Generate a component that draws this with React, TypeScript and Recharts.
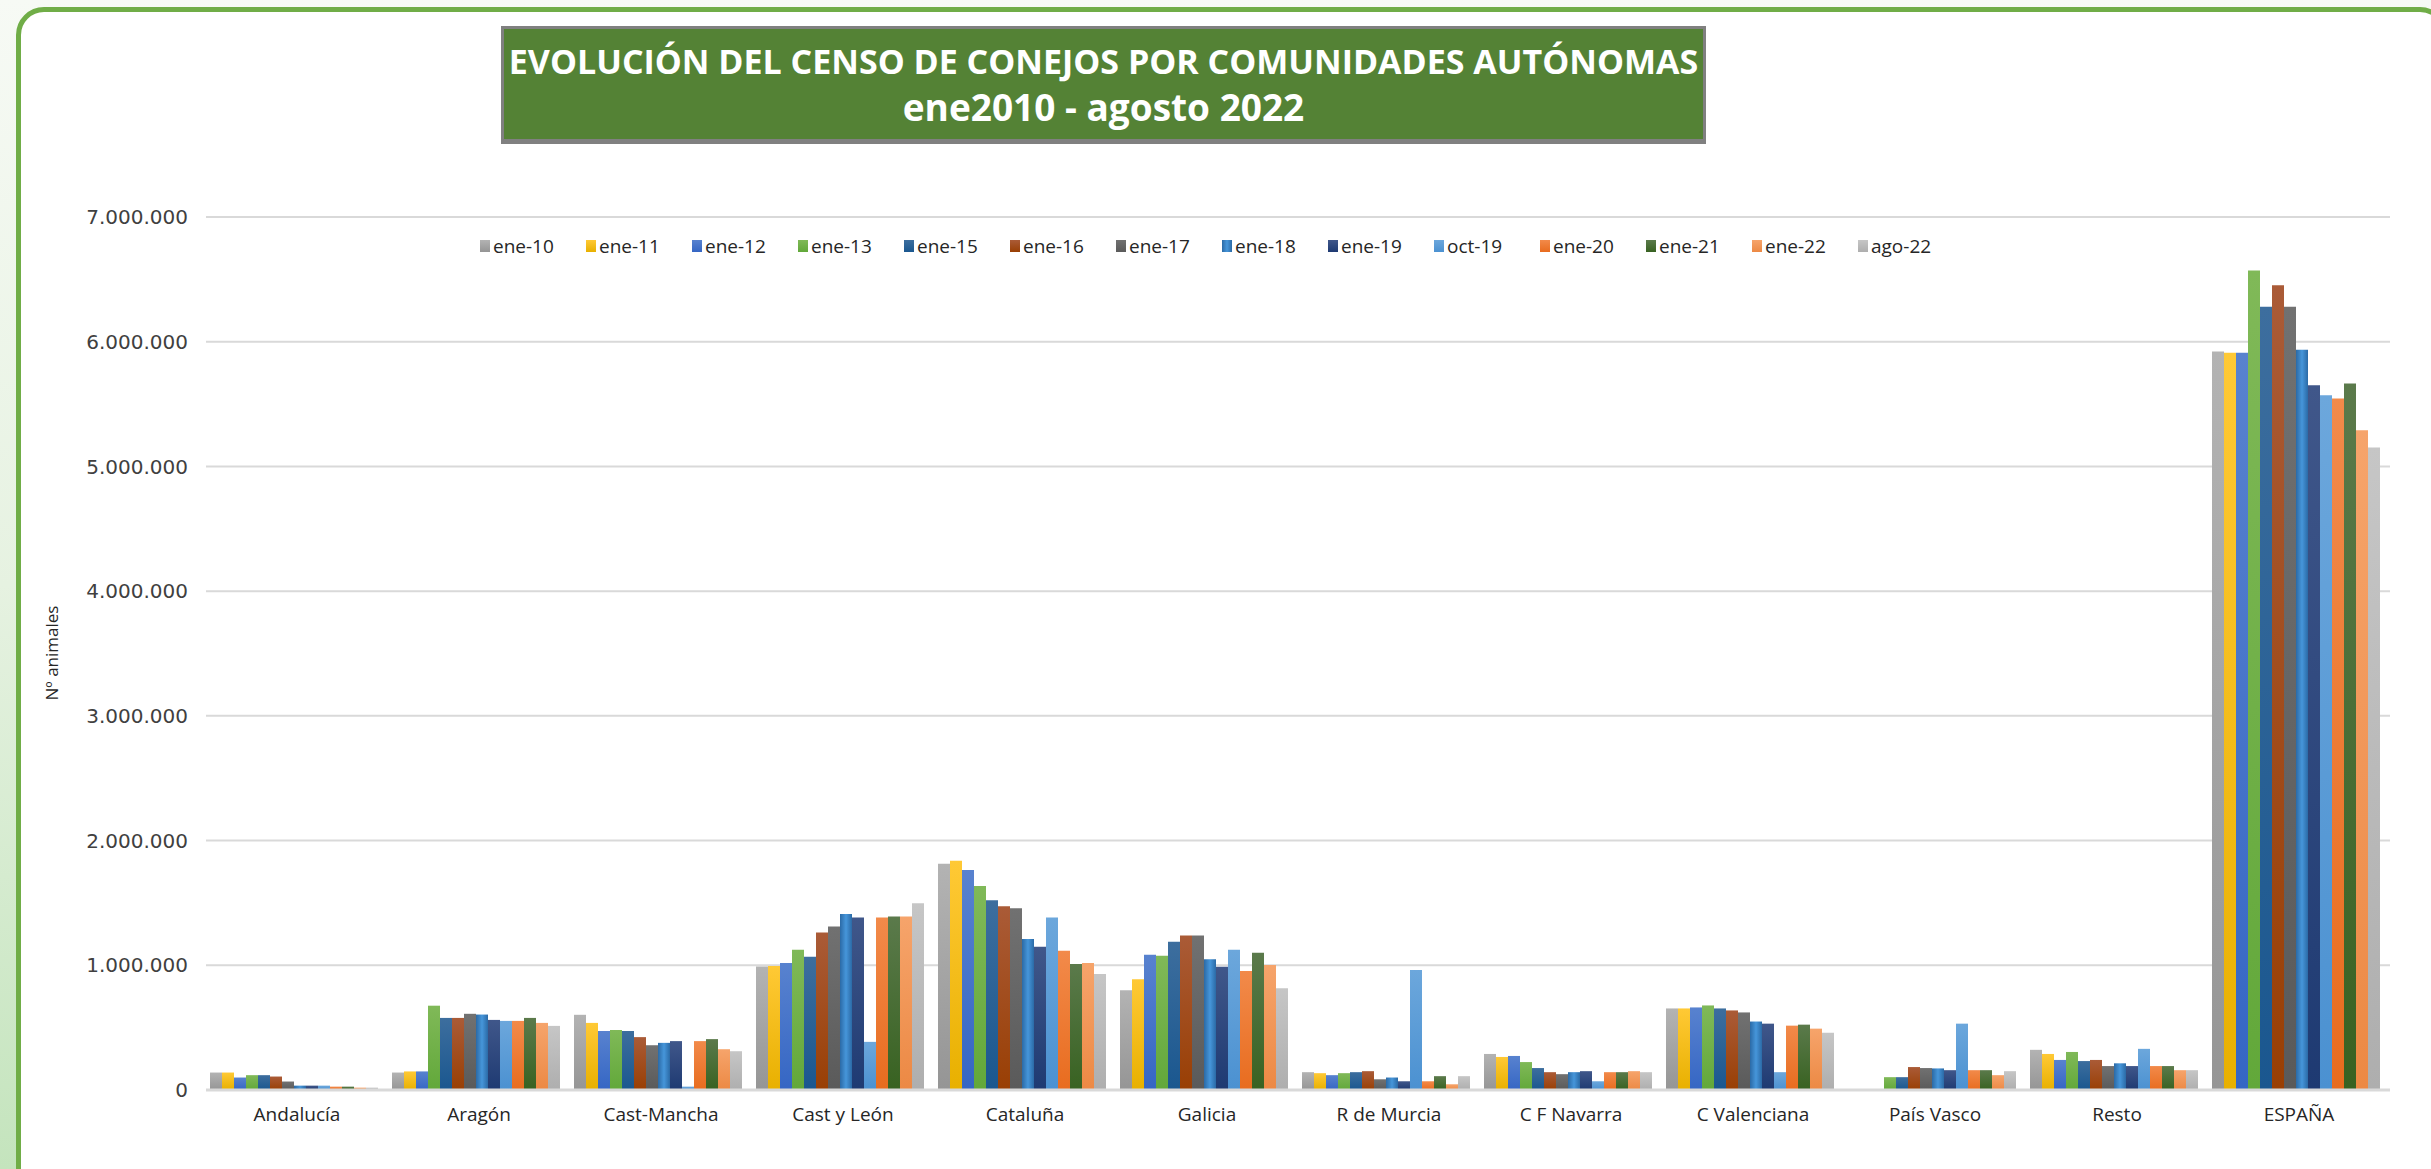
import { BarChart, Bar, XAxis, YAxis, CartesianGrid } from "recharts";

// Censo de conejos por comunidad (nº animales)
const categories = [
  "Andalucía", "Aragón", "Cast-Mancha", "Cast y León", "Cataluña", "Galicia",
  "R de Murcia", "C F Navarra", "C Valenciana", "País Vasco", "Resto", "ESPAÑA",
];

const ene10 = [140000, 140000, 603000, 990000, 1814000, 800000, 143000, 289000, 654000, 8000, 322000, 5922000];
const ene11 = [140000, 149000, 538000, 995000, 1838000, 889000, 135000, 265000, 654000, 8000, 289000, 5912000];
const ene12 = [100000, 149000, 473000, 1019000, 1765000, 1084000, 119000, 273000, 662000, 8000, 241000, 5912000];
const ene13 = [119000, 676000, 481000, 1124000, 1635000, 1076000, 135000, 224000, 678000, 103000, 305000, 6571000];
const ene15 = [119000, 578000, 473000, 1068000, 1522000, 1189000, 143000, 176000, 654000, 103000, 232000, 6281000];
const ene16 = [108000, 578000, 424000, 1262000, 1473000, 1238000, 151000, 143000, 638000, 184000, 241000, 6452000];
const ene17 = [68000, 611000, 359000, 1311000, 1457000, 1238000, 86000, 127000, 622000, 176000, 192000, 6281000];
const ene18 = [35000, 605000, 378000, 1411000, 1211000, 1049000, 100000, 143000, 549000, 173000, 214000, 5935000];
const ene19 = [35000, 562000, 392000, 1384000, 1149000, 989000, 70000, 151000, 532000, 159000, 192000, 5650000];
const oct19 = [35000, 554000, 27000, 386000, 1384000, 1124000, 962000, 70000, 143000, 532000, 330000, 5571000];
const ene20 = [27000, 554000, 392000, 1384000, 1116000, 954000, 70000, 143000, 516000, 159000, 192000, 5544000];
const ene21 = [27000, 578000, 408000, 1392000, 1011000, 1100000, 111000, 143000, 524000, 159000, 192000, 5664000];
const ene22 = [19000, 538000, 327000, 1392000, 1019000, 1003000, 46000, 151000, 492000, 119000, 159000, 5290000];
const ago22 = [19000, 514000, 311000, 1497000, 930000, 816000, 111000, 143000, 459000, 151000, 159000, 5152000];

const yTicks = [0, 1000000, 2000000, 3000000, 4000000, 5000000, 6000000, 7000000];

const SERIES = [
  { key: "ene-10", values: ene10, top: "#b3b3b3", bottom: "#959595" },
  { key: "ene-11", values: ene11, top: "#ffc935", bottom: "#e8b000" },
  { key: "ene-12", values: ene12, top: "#5882cf", bottom: "#3566c4" },
  { key: "ene-13", values: ene13, top: "#80b958", bottom: "#62a83a" },
  { key: "ene-15", values: ene15, top: "#3d6e9e", bottom: "#1a578f" },
  { key: "ene-16", values: ene16, top: "#aa5b37", bottom: "#993f04" },
  { key: "ene-17", values: ene17, top: "#717171", bottom: "#5a5a5a" },
  { key: "ene-18", values: ene18, top: "#4696da", bottom: "#2b6aa6", glass: true },
  { key: "ene-19", values: ene19, top: "#40578a", bottom: "#1e3a72" },
  { key: "oct-19", values: oct19, top: "#6ca7dc", bottom: "#4b91d1" },
  { key: "ene-20", values: ene20, top: "#f28a4a", bottom: "#e86c1f" },
  { key: "ene-21", values: ene21, top: "#5b7a4b", bottom: "#386221" },
  { key: "ene-22", values: ene22, top: "#f6a46b", bottom: "#ec8944" },
  { key: "ago-22", values: ago22, top: "#c6c6c6", bottom: "#aeaeae" },
];

const data = categories.map((name, i) => {
  const row: Record<string, string | number> = { name };
  SERIES.forEach((s) => { row[s.key] = s.values[i]; });
  return row;
});

const fmt = (v: number) => String(v).replace(/\B(?=(\d{3})+(?!\d))/g, ".");
const gid = (k: string) => "g-" + k.replace("-", "");

const FONT = "'Open Sans', 'DejaVu Sans', sans-serif";

export default function App() {
  return (
    <div style={{
      position: "absolute", left: 0, top: 0, width: 2431, height: 1169, overflow: "hidden",
      background: "linear-gradient(to bottom, #f7faf5 0%, #e6f2e1 50%, #c4e4bd 100%)",
      fontFamily: FONT,
    }}>
      <div style={{
        position: "absolute", left: 16, top: 7, width: 2422, height: 1220,
        border: "5px solid #70ad47", borderRadius: 28, background: "#ffffff",
      }} />

      {/* title box */}
      <div style={{
        position: "absolute", left: 501, top: 26, width: 1199, height: 101,
        background: "#548235", border: "3px solid #808080", borderBottomWidth: 5,
        color: "#ffffff", fontWeight: 700, lineHeight: "46px",
        textAlign: "center", paddingTop: 9, boxSizing: "content-box",
      }}>
        <div style={{ fontSize: 34 }}>EVOLUCIÓN DEL CENSO DE CONEJOS POR COMUNIDADES AUTÓNOMAS</div>
        <div style={{ fontSize: 37 }}>ene2010 - agosto 2022</div>
      </div>

      {/* legend */}
      <div style={{ position: "absolute", left: 480, top: 232, display: "flex", height: 28, alignItems: "center" }}>
        {SERIES.map((s) => (
          <div key={s.key} style={{ width: 106, display: "flex", alignItems: "center", fontSize: 19, color: "#262626" }}>
            <span style={{
              width: 10, height: 12, marginRight: 3, display: "inline-block",
              background: s.glass
                ? `linear-gradient(to right, ${s.bottom}, ${s.top}, ${s.bottom})`
                : `linear-gradient(to bottom, ${s.top}, ${s.bottom})`,
            }} />
            <span>{s.key}</span>
          </div>
        ))}
      </div>

      {/* y-axis title */}
      <div style={{
        position: "absolute", left: 51, top: 653, transform: "translate(-50%, -50%) rotate(-90deg)",
        fontSize: 17, color: "#262626", whiteSpace: "nowrap",
      }}>
        Nº animales
      </div>

      <div style={{ position: "absolute", left: 0, top: 0 }}>
        <BarChart
          width={2431}
          height={1169}
          data={data}
          margin={{ top: 217, right: 41, bottom: 19, left: 86 }}
          barCategoryGap={4}
          barGap={0}
        >
          <defs>
            {SERIES.map((s) => s.glass ? (
              <linearGradient key={s.key} id={gid(s.key)} x1="0" y1="0" x2="1" y2="0">
                <stop offset="0%" stopColor={s.bottom} />
                <stop offset="50%" stopColor={s.top} />
                <stop offset="100%" stopColor={s.bottom} />
              </linearGradient>
            ) : (
              <linearGradient key={s.key} id={gid(s.key)} x1="0" y1="0" x2="0" y2="1">
                <stop offset="0%" stopColor={s.top} />
                <stop offset="100%" stopColor={s.bottom} />
              </linearGradient>
            ))}
          </defs>
          <CartesianGrid vertical={false} stroke="#d9d9d9" strokeWidth={2} />
          <XAxis
            dataKey="name"
            height={60}
            axisLine={{ stroke: "#d9d9d9", strokeWidth: 3 }}
            tickLine={false}
            tickMargin={12}
            interval={0}
            tick={{ fontSize: 19, fill: "#262626", fontFamily: FONT }}
          />
          <YAxis
            width={120}
            domain={[0, 7000000]}
            ticks={yTicks}
            tickFormatter={fmt}
            axisLine={false}
            tickLine={false}
            tickMargin={12}
            tick={{ fontSize: 20, fill: "#404040", fontFamily: "'DejaVu Sans', sans-serif" }}
          />
          {SERIES.map((s) => (
            <Bar
              key={s.key}
              dataKey={s.key}
              fill={`url(#${gid(s.key)})`}
              isAnimationActive={false}
            />
          ))}
        </BarChart>
      </div>
    </div>
  );
}
